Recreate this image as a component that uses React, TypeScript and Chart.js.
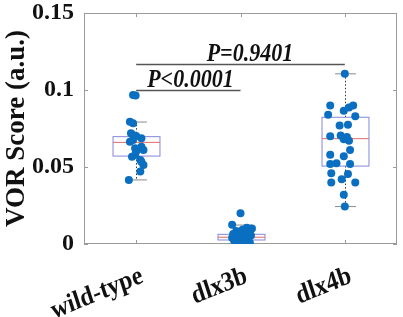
import { useEffect, useRef } from "react";
import { Chart, registerables } from "chart.js";

Chart.register(...registerables);

const categories = ["wild-type", "dlx3b", "dlx4b"];

const wildTypeValues = [0.0968, 0.0965, 0.0794, 0.0784, 0.0719, 0.0708, 0.0701, 0.0686, 0.0675, 0.0664, 0.0632, 0.0621, 0.061, 0.06, 0.0578, 0.0567, 0.0545, 0.0534, 0.0513, 0.047, 0.0416];
const wildTypeJitter = [-0.03, -0.005, -0.06, -0.03, -0.05, -0.03, 0.0, 0.05, -0.03, -0.06, 0.05, -0.01, 0.07, 0.0, -0.01, -0.04, 0.04, 0.05, 0.07, 0.04, -0.07];

const dlx3bValues = [0.02, 0.0125, 0.0105, 0.01, 0.0092, 0.0085, 0.0078, 0.007, 0.0065, 0.006, 0.0055, 0.005, 0.0045, 0.004, 0.0035, 0.003, 0.0025, 0.002, 0.0015, 0.001, 0.0008, 0.0005, 0.0003];
const dlx3bJitter = [0.0, -0.08, 0.06, 0.11, 0.02, -0.04, 0.09, 0.0, -0.07, 0.05, 0.1, -0.02, 0.03, -0.08, 0.07, -0.03, 0.02, -0.06, 0.05, -0.01, 0.09, -0.05, 0.03];

const dlx4bValues = [0.1105, 0.09, 0.09, 0.0887, 0.0865, 0.084, 0.083, 0.0775, 0.077, 0.0705, 0.07, 0.0695, 0.068, 0.067, 0.061, 0.058, 0.057, 0.0525, 0.052, 0.052, 0.046, 0.0455, 0.042, 0.04, 0.04, 0.032, 0.0243];
const dlx4bJitter = [0.0, 0.08, -0.14, 0.04, -0.01, -0.16, 0.1, 0.03, -0.05, -0.04, -0.14, 0.02, -0.01, 0.04, 0.05, -0.14, -0.01, -0.08, -0.14, 0.05, -0.13, 0.03, -0.03, -0.13, 0.1, -0.01, 0.0];

const boxQ1 = [0.0571, 0.0026, 0.0506];
const boxMedian = [0.066, 0.0044, 0.0684];
const boxQ3 = [0.0697, 0.0063, 0.0823];
const whiskerLow = [0.0416, 0.0003, 0.0243];
const whiskerHigh = [0.0792, 0.0123, 0.1105];

const yTickValues = [0, 0.05, 0.1, 0.15];
const yTickLabels = ["0", "0.05", "0.1", "0.15"];

const sigFrom = [1, 1];
const sigTo = [2, 3];
const sigLevel = [0.1, 0.1169];
const sigLabels = ["P<0.0001", "P=0.9401"];
const sigTextX = [1.52, 2.09];

const FONT = "'Liberation Serif', 'Times New Roman', serif";

function toPoints(values: number[], jitter: number[], group: number) {
  return values.map((v, i) => ({ x: group + jitter[i], y: v }));
}

const boxPlugin = {
  id: "boxes",
  beforeDatasetsDraw(chart: any) {
    const { ctx, chartArea, scales } = chart;
    const x = scales.x;
    const y = scales.y;
    ctx.save();
    ctx.strokeStyle = "#9a9a9a";
    ctx.lineWidth = 1;
    ctx.strokeRect(chartArea.left + 0.5, chartArea.top + 0.5, chartArea.right - chartArea.left - 1, chartArea.bottom - chartArea.top - 1);
    ctx.beginPath();
    yTickValues.forEach((v) => {
      const py = Math.round(y.getPixelForValue(v)) + 0.5;
      ctx.moveTo(chartArea.left, py);
      ctx.lineTo(chartArea.left + 4, py);
      ctx.moveTo(chartArea.right, py);
      ctx.lineTo(chartArea.right - 4, py);
    });
    categories.forEach((_, i) => {
      const px = Math.round(x.getPixelForValue(i + 1)) + 0.5;
      ctx.moveTo(px, chartArea.bottom);
      ctx.lineTo(px, chartArea.bottom - 4);
      ctx.moveTo(px, chartArea.top);
      ctx.lineTo(px, chartArea.top + 4);
    });
    ctx.stroke();

    const boxHalf = x.getPixelForValue(1.225) - x.getPixelForValue(1);
    const capHalf = x.getPixelForValue(1.1) - x.getPixelForValue(1);
    categories.forEach((_, i) => {
      const cx = Math.round(x.getPixelForValue(i + 1)) + 0.5;
      const yq1 = y.getPixelForValue(boxQ1[i]);
      const yq3 = y.getPixelForValue(boxQ3[i]);
      const ymed = y.getPixelForValue(boxMedian[i]);
      const ylo = y.getPixelForValue(whiskerLow[i]);
      const yhi = y.getPixelForValue(whiskerHigh[i]);
      ctx.strokeStyle = "#333333";
      ctx.lineWidth = 1;
      ctx.setLineDash([1.5, 2]);
      ctx.beginPath();
      ctx.moveTo(cx, yq3);
      ctx.lineTo(cx, yhi);
      ctx.moveTo(cx, yq1);
      ctx.lineTo(cx, ylo);
      ctx.stroke();
      ctx.setLineDash([]);
      ctx.strokeStyle = "#8a8a8a";
      ctx.beginPath();
      ctx.moveTo(cx - capHalf, yhi);
      ctx.lineTo(cx + capHalf, yhi);
      ctx.moveTo(cx - capHalf, ylo);
      ctx.lineTo(cx + capHalf, ylo);
      ctx.stroke();
      ctx.strokeStyle = "#8585dc";
      ctx.strokeRect(cx - boxHalf, yq3, boxHalf * 2, yq1 - yq3);
      ctx.strokeStyle = "#e06a6a";
      ctx.beginPath();
      ctx.moveTo(cx - boxHalf, ymed);
      ctx.lineTo(cx + boxHalf, ymed);
      ctx.stroke();
    });
    ctx.restore();
  },
  afterDatasetsDraw(chart: any) {
    const { ctx, scales } = chart;
    const x = scales.x;
    const y = scales.y;
    ctx.save();
    sigLabels.forEach((label, i) => {
      const py = Math.round(y.getPixelForValue(sigLevel[i])) + 0.5;
      ctx.strokeStyle = "#555555";
      ctx.lineWidth = 1.5;
      ctx.beginPath();
      ctx.moveTo(x.getPixelForValue(sigFrom[i]), py);
      ctx.lineTo(x.getPixelForValue(sigTo[i]), py);
      ctx.stroke();
      ctx.fillStyle = "#111111";
      ctx.font = `italic bold 22px ${FONT}`;
      ctx.textAlign = "center";
      ctx.textBaseline = "alphabetic";
      ctx.save();
      ctx.translate(x.getPixelForValue(sigTextX[i]), py - 4);
      ctx.scale(1, 1.1);
      ctx.fillText(label, 0, 0);
      ctx.restore();
    });
    ctx.font = `bold 24px ${FONT}`;
    ctx.fillStyle = "#111111";
    ctx.textAlign = "right";
    ctx.textBaseline = "alphabetic";
    categories.forEach((c, i) => {
      const px = x.getPixelForValue(i + 1) + 8;
      const py = chart.chartArea.bottom + 38;
      ctx.save();
      ctx.translate(px, py);
      ctx.scale(1, 1.12);
      ctx.rotate((-20 * Math.PI) / 180);
      ctx.fillText(c, 0, 0);
      ctx.restore();
    });
    ctx.restore();
  },
};

export default function App() {
  const canvasRef = useRef<HTMLCanvasElement | null>(null);

  useEffect(() => {
    const canvas = canvasRef.current;
    if (!canvas) return;
    const pointStyle = {
      backgroundColor: "#0a6fc0",
      borderColor: "#0a6fc0",
      pointRadius: 4,
      pointBorderWidth: 0,
      showLine: false,
    };
    const chart = new Chart(canvas, {
      type: "scatter",
      data: {
        datasets: [
          { label: categories[0], data: toPoints(wildTypeValues, wildTypeJitter, 1), ...pointStyle },
          { label: categories[1], data: toPoints(dlx3bValues, dlx3bJitter, 2), ...pointStyle },
          { label: categories[2], data: toPoints(dlx4bValues, dlx4bJitter, 3), ...pointStyle },
        ],
      },
      options: {
        animation: false,
        responsive: true,
        maintainAspectRatio: false,
        layout: { padding: { top: 13, right: 6, left: 0, bottom: 0 } },
        plugins: { legend: { display: false }, tooltip: { enabled: false } },
        scales: {
          x: {
            type: "linear",
            min: 0.5,
            max: 3.5,
            grid: { display: false, drawTicks: false },
            border: { display: false },
            ticks: { display: false },
            afterFit: (s: any) => {
              s.height = 73;
              s.paddingLeft = 0;
              s.paddingRight = 0;
            },
          },
          y: {
            type: "linear",
            min: 0,
            max: 0.15,
            grid: { display: false, drawTicks: false },
            border: { display: false },
            afterBuildTicks: (s: any) => {
              s.ticks = yTickValues.map((v) => ({ value: v }));
            },
            ticks: {
              padding: 10,
              color: "#111111",
              font: { family: FONT, size: 24, weight: "bold" },
              callback: (_v: any, i: number) => yTickLabels[i],
            },
            title: {
              display: true,
              text: "VOR Score (a.u.)",
              color: "#111111",
              padding: { top: 1, bottom: 0 },
              font: { family: FONT, size: 27, weight: "bold" },
            },
            afterFit: (s: any) => {
              s.width = 84;
              s.paddingTop = 0;
              s.paddingBottom = 0;
            },
          },
        },
      },
      plugins: [boxPlugin],
    } as any);
    return () => chart.destroy();
  }, []);

  return (
    <div style={{ position: "fixed", left: 0, top: 0, width: 403, height: 317, background: "#ffffff" }}>
      <canvas ref={canvasRef} />
    </div>
  );
}
